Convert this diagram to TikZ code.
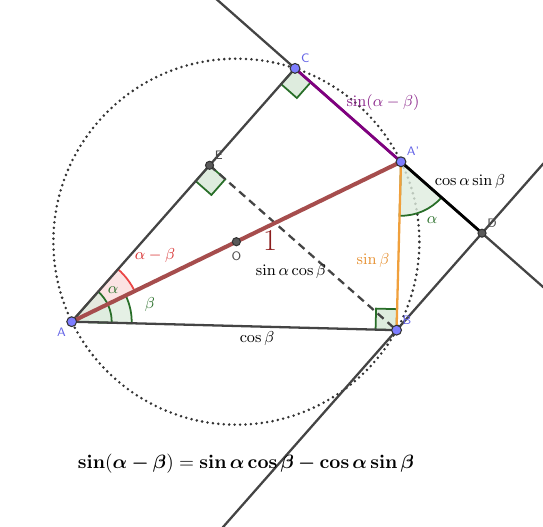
\documentclass[tikz,border=0pt]{standalone}
\usetikzlibrary{calc}
\definecolor{ggline}{RGB}{68,68,68}
\definecolor{ggdiam}{RGB}{166,77,77}
\definecolor{ggpurple}{RGB}{128,0,128}
\definecolor{ggtxtpurple}{RGB}{140,40,140}
\definecolor{ggorange}{RGB}{240,160,60}
\definecolor{ggtxtorange}{RGB}{230,145,50}
\definecolor{gggreen}{RGB}{40,110,40}
\definecolor{ggfill}{RGB}{222,236,222}
\definecolor{ggred}{RGB}{235,70,70}
\definecolor{ggtxtred}{RGB}{215,45,45}
\definecolor{ggpink}{RGB}{250,215,215}
\definecolor{ggone}{RGB}{140,30,30}
\definecolor{ggblue}{RGB}{125,125,255}
\definecolor{ggblab}{RGB}{100,100,230}
\DeclareSymbolFont{bletters}{OML}{cmm}{b}{it}
\DeclareSymbolFont{bsymbols}{OMS}{cmsy}{b}{n}
\DeclareMathSymbol{\balpha}{\mathord}{bletters}{"0B}
\DeclareMathSymbol{\bbeta}{\mathord}{bletters}{"0C}
\DeclareMathSymbol{\bminus}{\mathbin}{bsymbols}{"00}
\newcommand{\bsin}{\mathop{\mathbf{sin}}\nolimits}
\newcommand{\bcos}{\mathop{\mathbf{cos}}\nolimits}

\begin{document}
\begin{tikzpicture}[scale=7.32,
  seg/.style={line width=1.3pt,ggline},
  circ/.style={line width=1.6pt,black!80,line cap=round,dash pattern=on 0pt off 3.1pt},
  rangle/.style={line width=1pt,gggreen,fill=ggfill},
  sector/.style={line width=1pt,gggreen,fill=ggfill,fill opacity=0.8},
  redsector/.style={line width=1pt,ggred,fill=ggpink,fill opacity=0.7},
  bpt/.style={circle,draw=black!80,fill=ggblue,line width=0.6pt,inner sep=0pt,minimum size=5.6pt},
  gpt/.style={circle,draw=black!80,fill=black!65,line width=0.6pt,inner sep=0pt,minimum size=4.6pt},
  blab/.style={ggblab,font=\sffamily\scriptsize,inner sep=1pt},
  glab/.style={black!70,font=\sffamily\scriptsize,inner sep=1pt},
  txt/.style={font=\small,inner sep=1pt}]
\useasboundingbox (0,0) rectangle (1.4836,1.4372);
\clip (0,0) rectangle (1.4836,1.4372);
\coordinate (A) at (0.1959,0.5582);
\coordinate (Ap) at ($(A)+(25.9:1)$);
\coordinate (B) at ($(A)+(-1.5:{cos(27.4)})$);
\coordinate (C) at ($(A)+(48.6:{cos(22.7)})$);
\coordinate (E) at ($(A)+(48.6:{cos(27.4)*cos(50.1)})$);
\coordinate (D) at ($(C)+(-41.4:{sin(50.1)*cos(27.4)})$);
\coordinate (O) at ($(A)!0.5!(Ap)$);
\draw[circ] (O) circle (0.5);
\filldraw[sector] (A) -- ++(-1.5:0.1639) arc[start angle=-1.5,end angle=25.9,radius=0.1639] -- cycle;
\filldraw[redsector] (A) -- ++(25.9:0.1913) arc[start angle=25.9,end angle=48.6,radius=0.1913] -- cycle;
\filldraw[sector] (A) -- ++(-1.5:0.1093) arc[start angle=-1.5,end angle=48.6,radius=0.1093] -- cycle;
\filldraw[sector] (Ap) -- ++(-91.5:0.1475) arc[start angle=-91.5,end angle=-41.4,radius=0.1475] -- cycle;
\filldraw[rangle] (C) -- ++(228.6:0.0574) -- ++(-41.4:0.0574) -- ++(48.6:0.0574) -- cycle;
\filldraw[rangle] (E) -- ++(228.6:0.0574) -- ++(-41.4:0.0574) -- ++(48.6:0.0574) -- cycle;
\filldraw[rangle] (B) -- ++(178.5:0.0574) -- ++(88.5:0.0574) -- ++(-1.5:0.0574) -- cycle;
\draw[seg] ($(C)!-1!(D)$) -- ($(D)!-1!(C)$);
\draw[seg] ($(B)!-3!(D)$) -- ($(D)!-1!(B)$);
\draw[seg] (A) -- (C);
\draw[seg] (A) -- (B);
\draw[seg,dash pattern=on 4.5pt off 3pt] (E) -- (B);
\draw[line width=2.3pt,ggdiam] (A) -- (Ap);
\draw[line width=1.6pt,ggpurple] (C) -- (Ap);
\draw[line width=1.6pt,black] (Ap) -- (D);
\draw[line width=1.3pt,ggorange] (Ap) -- (B);
\node[bpt,label={[blab]below left:A}] (pA) at (A) {};
\node[bpt,label={[blab]above right:B}] (pB) at (B) {};
\node[bpt,label={[blab]above right:C}] (pC) at (C) {};
\node[bpt,label={[blab]above right:A'}] (pAp) at (Ap) {};
\node[gpt,label={[glab]above right:D}] (pD) at (D) {};
\node[gpt,label={[glab]above right:E}] (pE) at (E) {};
\node[gpt,label={[glab,label distance=2pt]below:O}] (pO) at (O) {};
\node[txt,ggtxtpurple] (lCAp) at (1.0464,1.1557) {$\sin(\alpha-\beta)$};
\node[txt] (lApD) at (1.2841,0.9399) {$\cos\alpha\sin\beta$};
\node[txt,ggtxtorange] (lApB) at (1.0191,0.7240) {$\sin\beta$};
\node[txt] (lEB) at (0.7951,0.6940) {$\sin\alpha\cos\beta$};
\node[txt] (lAB) at (0.7022,0.5109) {$\cos\beta$};
\node[font=\LARGE,ggone] (lAAp) at (0.7377,0.7814) {1};
\node[txt,ggtxtred] (lamb) at (0.4235,0.7377) {$\alpha-\beta$};
\node[txt,gggreen] (lbeta) at (0.4098,0.6038) {$\beta$};
\node[txt,gggreen] (lalA) at (0.3087,0.6448) {$\alpha$};
\node[txt,gggreen] (lalAp) at (1.1803,0.8361) {$\alpha$};
\node[font=\fontsize{11}{13}\selectfont] (form) at (0.6721,0.1694) {$\bsin\mathopen{\mathbf{(}}\balpha\bminus\bbeta\mathclose{\mathbf{)}}\mathrel{\mathbf{=}}\bsin\balpha\bcos\bbeta\bminus\bcos\balpha\bsin\bbeta$};
\end{tikzpicture}
\end{document}
